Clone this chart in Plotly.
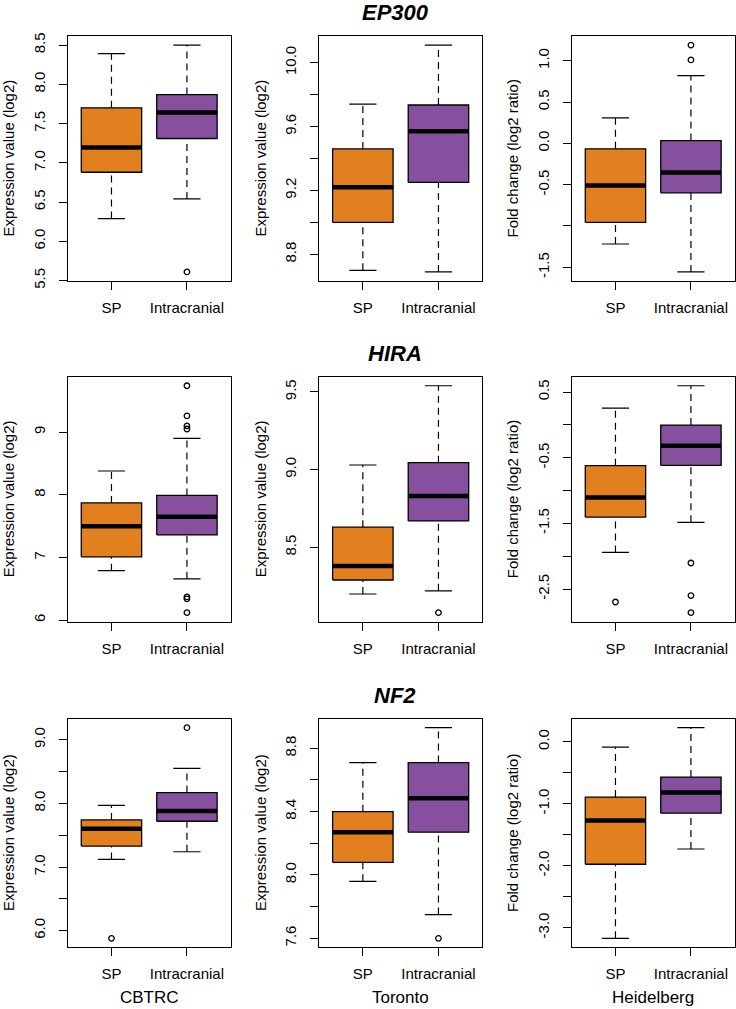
import plotly.graph_objects as go

# ---------------- data ----------------
genes = ["EP300", "HIRA", "NF2"]
cohorts = ["CBTRC", "Toronto", "Heidelberg"]
groups = ["SP", "Intracranial"]
ylabels = ["Expression value (log2)", "Expression value (log2)", "Fold change (log2 ratio)"]

# stats per panel: [lower whisker, Q1, median, Q3, upper whisker] for SP and Intracranial
# row EP300
ep300_cbtrc_sp = [6.29, 6.88, 7.195, 7.70, 8.39]
ep300_cbtrc_ic = [6.54, 7.31, 7.64, 7.87, 8.50]
ep300_tor_sp = [8.70, 9.00, 9.22, 9.46, 9.74]
ep300_tor_ic = [8.69, 9.25, 9.57, 9.735, 10.11]
ep300_hei_sp = [-1.218, -0.957, -0.51, -0.066, 0.308]
ep300_hei_ic = [-1.556, -0.598, -0.353, 0.034, 0.82]
# row HIRA
hira_cbtrc_sp = [6.79, 7.01, 7.50, 7.87, 8.38]
hira_cbtrc_ic = [6.66, 7.36, 7.65, 7.99, 8.90]
hira_tor_sp = [8.20, 8.29, 8.38, 8.63, 9.03]
hira_tor_ic = [8.22, 8.67, 8.83, 9.045, 9.54]
hira_hei_sp = [-1.943, -1.404, -1.105, -0.622, 0.256]
hira_hei_ic = [-1.485, -0.617, -0.318, -0.003, 0.596]
# row NF2
nf2_cbtrc_sp = [7.12, 7.33, 7.60, 7.74, 7.97]
nf2_cbtrc_ic = [7.24, 7.72, 7.88, 8.17, 8.55]
nf2_tor_sp = [7.96, 8.08, 8.27, 8.40, 8.71]
nf2_tor_ic = [7.75, 8.27, 8.485, 8.71, 8.93]
nf2_hei_sp = [-3.17, -1.976, -1.27, -0.893, -0.086]
nf2_hei_ic = [-1.73, -1.152, -0.818, -0.57, 0.226]

# outliers
ep300_cbtrc_sp_out = []
ep300_cbtrc_ic_out = [5.61]
ep300_tor_sp_out = []
ep300_tor_ic_out = []
ep300_hei_sp_out = []
ep300_hei_ic_out = [1.01, 1.19]
hira_cbtrc_sp_out = []
hira_cbtrc_ic_out = [9.74, 9.26, 9.10, 9.05, 6.37, 6.34, 6.12]
hira_tor_sp_out = []
hira_tor_ic_out = [8.08]
hira_hei_sp_out = [-2.698]
hira_hei_ic_out = [-2.104, -2.60, -2.86]
nf2_cbtrc_sp_out = [5.88]
nf2_cbtrc_ic_out = [9.19]
nf2_tor_sp_out = []
nf2_tor_ic_out = [7.60]
nf2_hei_sp_out = []
nf2_hei_ic_out = []

# y ticks (value, label)
ticks_ep300 = [
    ([5.5, 6.0, 6.5, 7.0, 7.5, 8.0, 8.5], ["5.5", "6.0", "6.5", "7.0", "7.5", "8.0", "8.5"]),
    ([8.8, 9.0, 9.2, 9.4, 9.6, 9.8, 10.0], ["8.8", "", "9.2", "", "9.6", "", "10.0"]),
    ([-1.5, -1.0, -0.5, 0.0, 0.5, 1.0], ["-1.5", "", "-0.5", "0.0", "0.5", "1.0"]),
]
ticks_hira = [
    ([6, 7, 8, 9], ["6", "7", "8", "9"]),
    ([8.5, 9.0, 9.5], ["8.5", "9.0", "9.5"]),
    ([-2.5, -2.0, -1.5, -1.0, -0.5, 0.0, 0.5], ["-2.5", "", "-1.5", "", "-0.5", "", "0.5"]),
]
ticks_nf2 = [
    ([6.0, 6.5, 7.0, 7.5, 8.0, 8.5, 9.0], ["6.0", "", "7.0", "", "8.0", "", "9.0"]),
    ([7.6, 7.8, 8.0, 8.2, 8.4, 8.6, 8.8], ["7.6", "", "8.0", "", "8.4", "", "8.8"]),
    ([-3.0, -2.5, -2.0, -1.5, -1.0, -0.5, 0.0], ["-3.0", "", "-2.0", "", "-1.0", "", "0.0"]),
]

panels = [
    [(ep300_cbtrc_sp, ep300_cbtrc_ic, ep300_cbtrc_sp_out, ep300_cbtrc_ic_out),
     (ep300_tor_sp, ep300_tor_ic, ep300_tor_sp_out, ep300_tor_ic_out),
     (ep300_hei_sp, ep300_hei_ic, ep300_hei_sp_out, ep300_hei_ic_out)],
    [(hira_cbtrc_sp, hira_cbtrc_ic, hira_cbtrc_sp_out, hira_cbtrc_ic_out),
     (hira_tor_sp, hira_tor_ic, hira_tor_sp_out, hira_tor_ic_out),
     (hira_hei_sp, hira_hei_ic, hira_hei_sp_out, hira_hei_ic_out)],
    [(nf2_cbtrc_sp, nf2_cbtrc_ic, nf2_cbtrc_sp_out, nf2_cbtrc_ic_out),
     (nf2_tor_sp, nf2_tor_ic, nf2_tor_sp_out, nf2_tor_ic_out),
     (nf2_hei_sp, nf2_hei_ic, nf2_hei_sp_out, nf2_hei_ic_out)],
]
ticks = [ticks_ep300, ticks_hira, ticks_nf2]

# ---------------- styling / layout ----------------
W, H = 736, 1009
COLORS = ["#E2801F", "#87509E"]
FONT = "Liberation Sans, Arial, Helvetica, sans-serif"
col_px = [(67.7, 230.7), (319.0, 482.3), (571.7, 734.7)]
row_px = [(36.0, 281.0), (376.7, 621.7), (719.3, 946.7)]
title_y_px = [12, 353, 695]
title_x_px = 395
ylab_x_px = [8, 260, 512]
HALF = 0.4   # box half width (x units)
CAP = 0.18   # staple half width

fig = go.Figure()

def px2x(p):
    return p / W

def px2y(p):
    return 1 - p / H

k = 0
for r in range(3):
    for c in range(3):
        k += 1
        xa = "x" if k == 1 else f"x{k}"
        ya = "y" if k == 1 else f"y{k}"
        sp, ic, sp_out, ic_out = panels[r][c]
        allv = sp + ic + sp_out + ic_out
        lo, hi = min(allv), max(allv)
        pad = 0.04 * (hi - lo)
        for gi, (st, outs) in enumerate([(sp, sp_out), (ic, ic_out)]):
            xc = gi + 1
            wlo, q1, med, q3, whi = st
            # whiskers (dashed)
            fig.add_trace(go.Scatter(
                x=[xc, xc, None, xc, xc], y=[q3, whi, None, wlo, q1],
                mode="lines", line=dict(color="black", width=1.2, dash="7px,5px"),
                xaxis=xa, yaxis=ya, showlegend=False, hoverinfo="skip"))
            # staples
            fig.add_trace(go.Scatter(
                x=[xc - CAP, xc + CAP, None, xc - CAP, xc + CAP],
                y=[whi, whi, None, wlo, wlo],
                mode="lines", line=dict(color="black", width=1.2),
                xaxis=xa, yaxis=ya, showlegend=False, hoverinfo="skip"))
            # box
            fig.add_trace(go.Scatter(
                x=[xc - HALF, xc + HALF, xc + HALF, xc - HALF, xc - HALF],
                y=[q1, q1, q3, q3, q1],
                mode="lines", fill="toself", fillcolor=COLORS[gi],
                line=dict(color="black", width=1.3),
                xaxis=xa, yaxis=ya, showlegend=False, hoverinfo="skip"))
            # median
            fig.add_trace(go.Scatter(
                x=[xc - HALF, xc + HALF], y=[med, med],
                mode="lines", line=dict(color="black", width=4.5),
                xaxis=xa, yaxis=ya, showlegend=False, hoverinfo="skip"))
            # outliers
            if outs:
                fig.add_trace(go.Scatter(
                    x=[xc] * len(outs), y=outs, mode="markers",
                    marker=dict(symbol="circle-open", size=5.5, color="black",
                                line=dict(width=1.3)),
                    xaxis=xa, yaxis=ya, showlegend=False, hoverinfo="skip"))

        x0, x1 = col_px[c]
        y0, y1 = row_px[r]
        tv, tt = ticks[r][c]
        axis_common = dict(showline=True, linecolor="black", linewidth=1.2, mirror=True,
                           showgrid=False, zeroline=False, ticks="outside", ticklen=8,
                           tickwidth=1.2, tickcolor="black",
                           tickfont=dict(family=FONT, size=15, color="black"))
        fig.layout[("xaxis" if k == 1 else f"xaxis{k}")] = dict(
            domain=[px2x(x0), px2x(x1)], anchor=ya, range=[0.42, 2.58],
            tickvals=[1, 2], ticktext=groups, ticklabelstandoff=5, **axis_common)
        fig.layout[("yaxis" if k == 1 else f"yaxis{k}")] = dict(
            domain=[px2y(y1), px2y(y0)], anchor=xa, range=[lo - pad, hi + pad],
            tickvals=tv, ticktext=tt, tickangle=-90, ticklabelstandoff=8, **axis_common)

        # y axis label
        fig.add_annotation(text=ylabels[c], xref="paper", yref="paper",
                           x=px2x(ylab_x_px[c]), y=px2y((y0 + y1) / 2), textangle=-90,
                           showarrow=False, xanchor="center", yanchor="middle",
                           font=dict(family=FONT, size=15, color="black"))
    # gene title
    fig.add_annotation(text=f"<b><i>{genes[r]}</i></b>", xref="paper", yref="paper",
                       x=px2x(title_x_px), y=px2y(title_y_px[r]), showarrow=False,
                       xanchor="center", yanchor="middle",
                       font=dict(family=FONT, size=22, color="black"))

# cohort labels
for c in range(3):
    fig.add_annotation(text=cohorts[c], xref="paper", yref="paper",
                       x=px2x((col_px[c][0] + col_px[c][1]) / 2), y=px2y(997),
                       showarrow=False, xanchor="center", yanchor="middle",
                       font=dict(family=FONT, size=17, color="black"))

fig.update_layout(width=W, height=H, margin=dict(l=0, r=0, t=0, b=0, autoexpand=False),
                  paper_bgcolor="white", plot_bgcolor="white", showlegend=False)

fig.write_html("out.html", config={"displayModeBar": False},
               post_script="document.body.style.margin='0';document.body.style.overflow='hidden';")
